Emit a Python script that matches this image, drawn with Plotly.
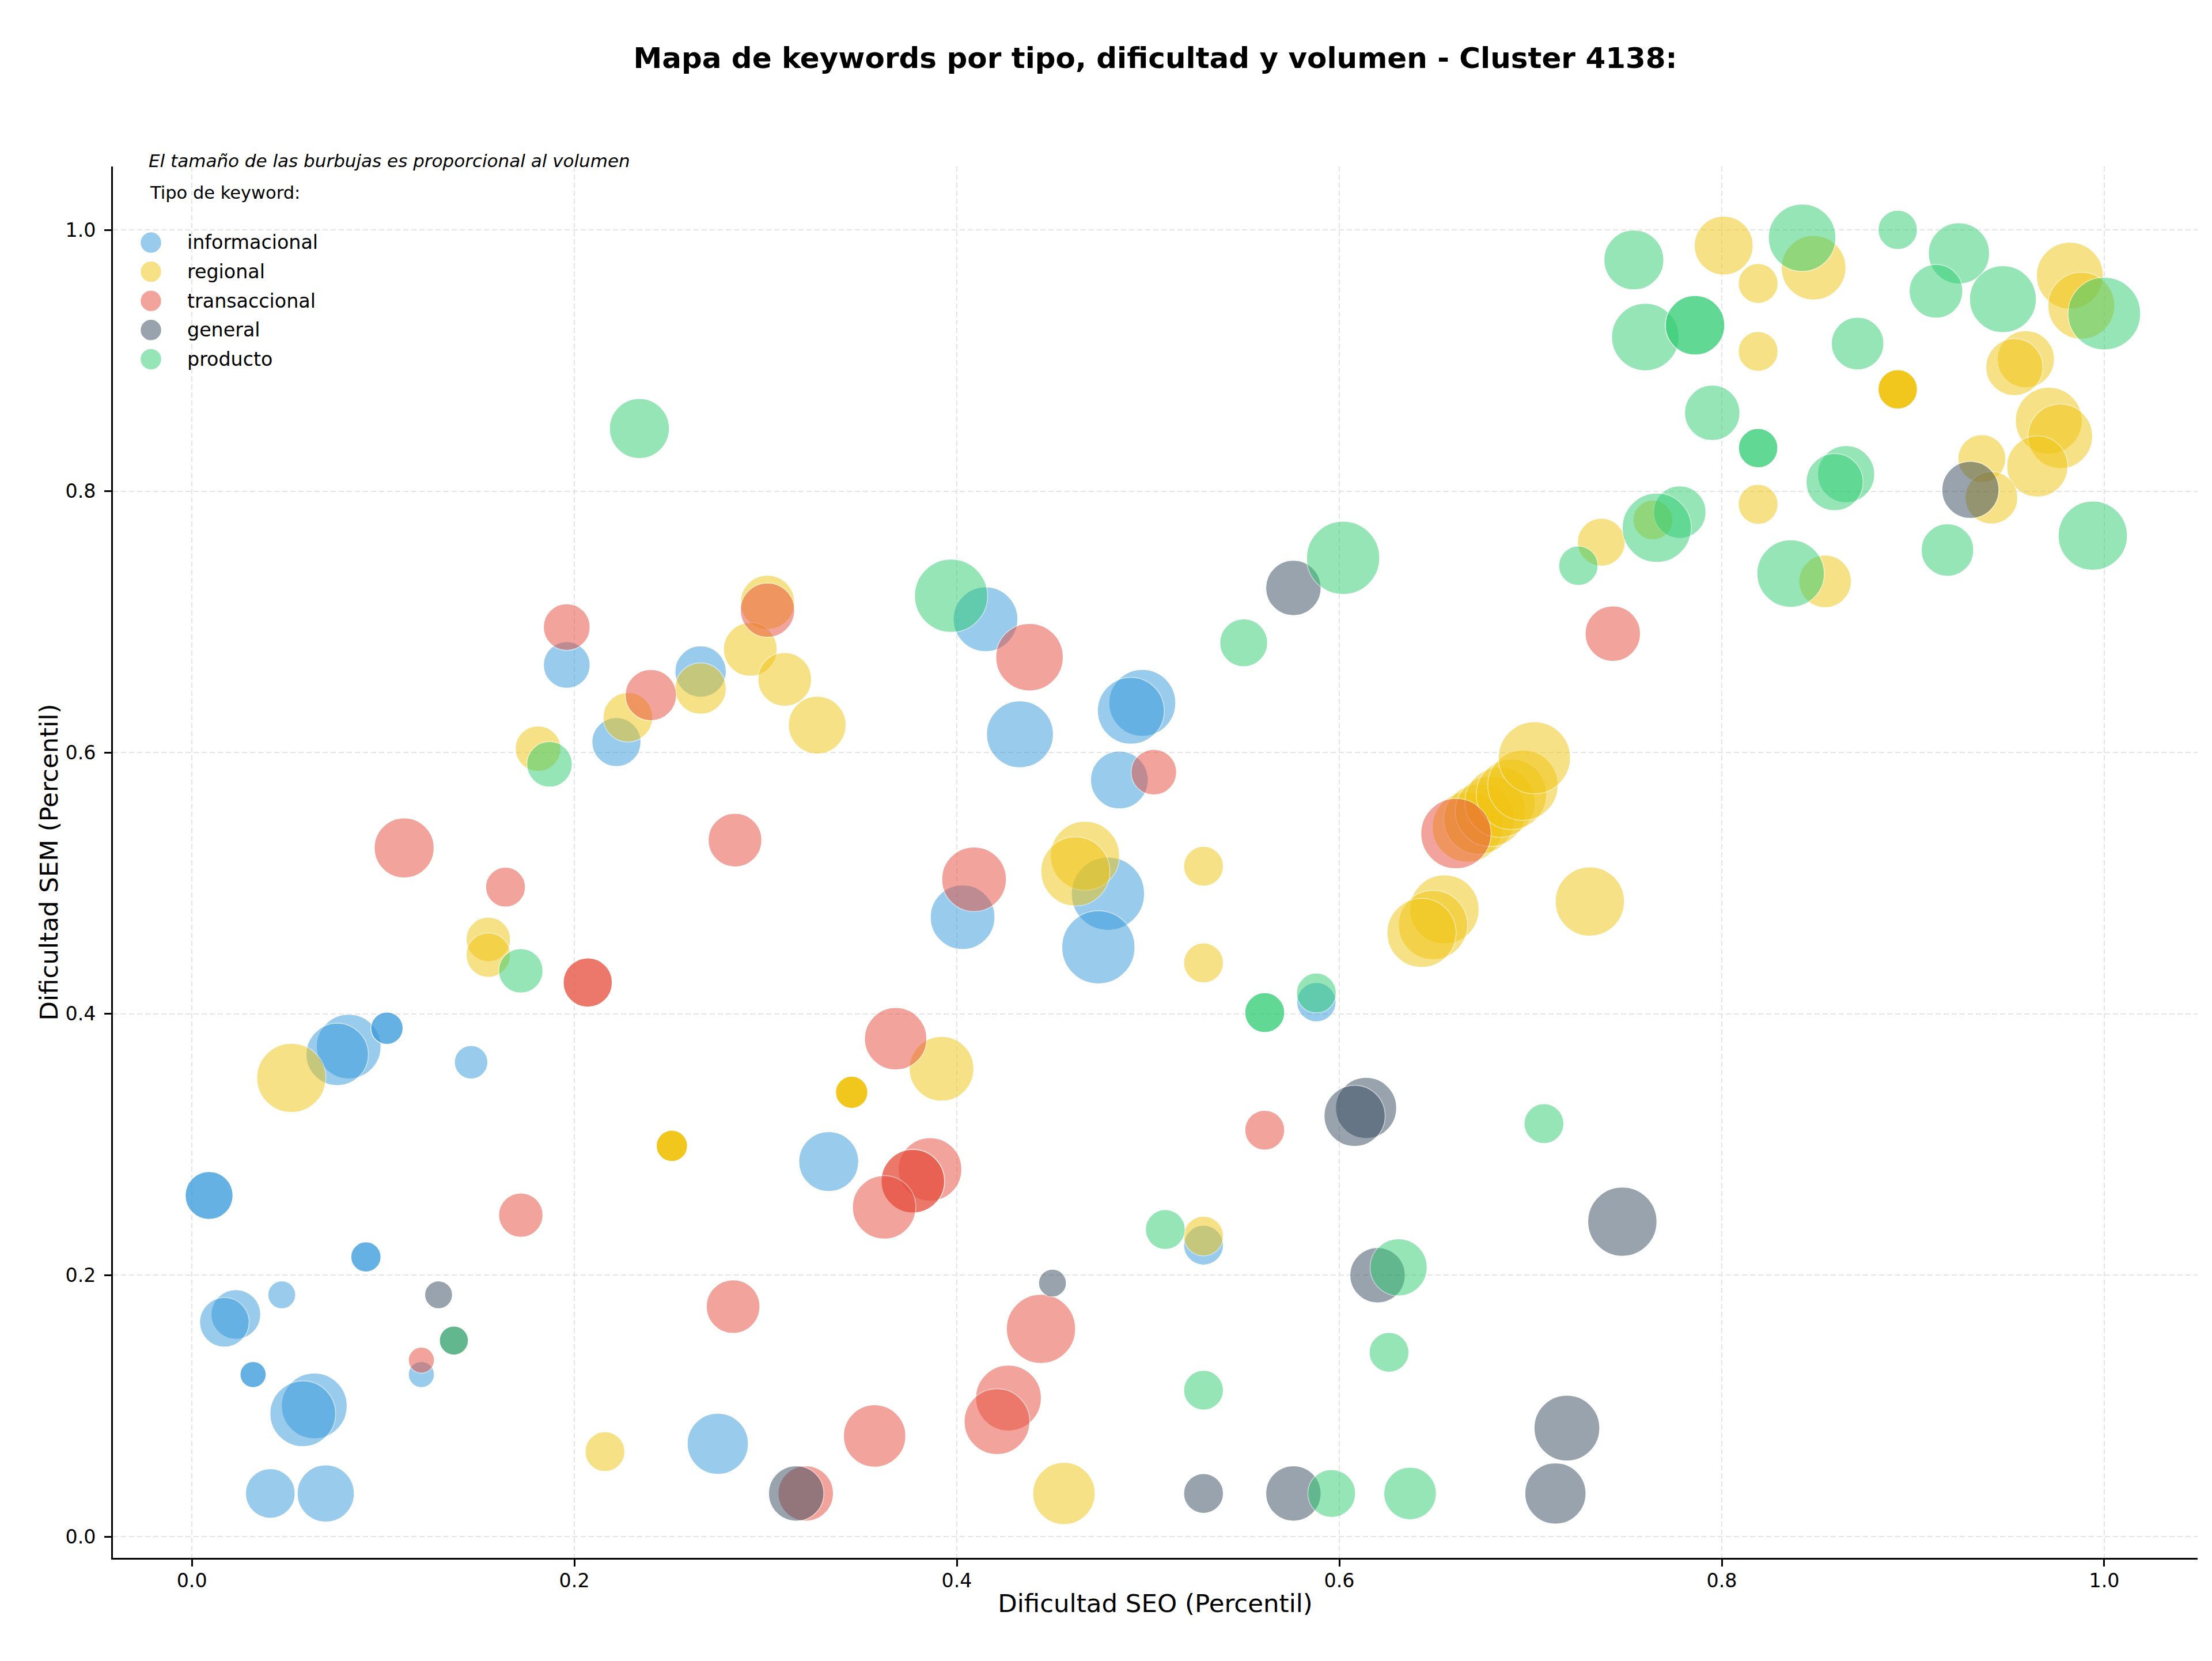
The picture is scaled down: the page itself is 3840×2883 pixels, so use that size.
import numpy as np
import plotly.graph_objects as go

# ---------------- data ----------------
tipos = ["informacional", "regional", "transaccional", "general", "producto"]

info_seo = [0.196, 0.266, 0.222, 0.082, 0.076, 0.102, 0.102, 0.146, 0.009, 0.009, 0.091, 0.091,
            0.047, 0.023, 0.017, 0.120, 0.032, 0.032, 0.064, 0.058, 0.275, 0.041, 0.070, 0.415,
            0.433, 0.497, 0.491, 0.485, 0.403, 0.479, 0.474, 0.588, 0.333, 0.529]
info_sem = [0.667, 0.662, 0.608, 0.375, 0.369, 0.389, 0.389, 0.363, 0.261, 0.261, 0.214, 0.214,
            0.185, 0.170, 0.164, 0.124, 0.124, 0.124, 0.100, 0.094, 0.071, 0.033, 0.033, 0.702,
            0.614, 0.638, 0.632, 0.579, 0.474, 0.492, 0.451, 0.409, 0.287, 0.223]
info_vol = [1640, 1980, 1810, 3140, 2920, 780, 780, 840, 1720, 1720, 680, 680,
            580, 1850, 1850, 510, 510, 510, 3250, 3250, 2810, 1850, 2450, 3140,
            3360, 3360, 3360, 2500, 3140, 4030, 4030, 1160, 2700, 1190]

reg_seo = [0.301, 0.292, 0.310, 0.327, 0.266, 0.228, 0.181, 0.155, 0.155, 0.052, 0.251, 0.251,
           0.251, 0.251, 0.216, 0.467, 0.462, 0.529, 0.529, 0.655, 0.649, 0.643, 0.392, 0.345,
           0.345, 0.345, 0.345, 0.456, 0.529, 0.667, 0.673, 0.679, 0.684, 0.690, 0.696, 0.702,
           0.731, 0.801, 0.848, 0.819, 0.982, 0.988, 0.819, 0.892, 0.892, 0.892, 0.892, 0.959,
           0.953, 0.971, 0.977, 0.936, 0.965, 0.941, 0.819, 0.764, 0.737, 0.854]
reg_sem = [0.715, 0.679, 0.656, 0.621, 0.649, 0.627, 0.603, 0.457, 0.445, 0.351, 0.299, 0.299,
           0.299, 0.299, 0.065, 0.521, 0.509, 0.513, 0.439, 0.480, 0.468, 0.462, 0.358, 0.340,
           0.340, 0.340, 0.340, 0.033, 0.230, 0.543, 0.549, 0.555, 0.562, 0.568, 0.575, 0.596,
           0.486, 0.988, 0.971, 0.959, 0.965, 0.942, 0.907, 0.878, 0.878, 0.878, 0.878, 0.901,
           0.895, 0.854, 0.842, 0.825, 0.819, 0.795, 0.790, 0.778, 0.761, 0.731]
reg_vol = [2210, 2160, 2160, 2500, 1980, 1850, 1560, 1480, 1480, 3600, 730, 730,
           730, 730, 1190, 3600, 3600, 1190, 1190, 3600, 3600, 3600, 3140, 780,
           780, 780, 780, 2920, 1190, 3720, 3720, 3720, 3720, 3720, 3720, 3910,
           3600, 2600, 3140, 1190, 3360, 3360, 1190, 1160, 1160, 1160, 1160, 2450,
           2450, 3360, 3140, 1720, 2810, 2070, 1190, 1190, 1720, 2070]

trans_seo = [0.196, 0.301, 0.240, 0.111, 0.284, 0.164, 0.207, 0.207, 0.172, 0.120, 0.321, 0.283,
             0.438, 0.503, 0.661, 0.409, 0.368, 0.386, 0.377, 0.377, 0.362, 0.444, 0.427, 0.421,
             0.357, 0.561, 0.743]
trans_sem = [0.696, 0.709, 0.644, 0.527, 0.533, 0.497, 0.424, 0.424, 0.246, 0.135, 0.033, 0.176,
             0.673, 0.585, 0.538, 0.503, 0.381, 0.281, 0.272, 0.272, 0.252, 0.159, 0.106, 0.088,
             0.077, 0.311, 0.691]
trans_vol = [1640, 2210, 1980, 2700, 2160, 1190, 1810, 1810, 1480, 510, 2300, 2160,
             3420, 1560, 3720, 3140, 2920, 3030, 3030, 3030, 3030, 3600, 3250, 3250,
             2920, 1190, 2300]

gen_seo = [0.129, 0.137, 0.316, 0.576, 0.450, 0.529, 0.614, 0.608, 0.620, 0.576, 0.748, 0.719,
           0.713, 0.930]
gen_sem = [0.185, 0.150, 0.033, 0.726, 0.194, 0.033, 0.328, 0.322, 0.200, 0.033, 0.241, 0.083,
           0.033, 0.801]
gen_vol = [580, 630, 2300, 2300, 580, 1190, 2810, 2810, 2300, 2300, 3600, 3250,
           2810, 2450]

prod_seo = [0.234, 0.187, 0.172, 0.137, 0.397, 0.550, 0.602, 0.561, 0.561, 0.588, 0.509, 0.529,
            0.631, 0.626, 0.596, 0.637, 0.707, 0.754, 0.842, 0.892, 0.924, 0.912, 0.947, 1.000,
            0.760, 0.786, 0.786, 0.871, 0.795, 0.819, 0.819, 0.865, 0.859, 0.778, 0.766, 0.725,
            0.836, 0.918, 0.994]
prod_sem = [0.848, 0.591, 0.433, 0.150, 0.720, 0.684, 0.749, 0.401, 0.401, 0.416, 0.235, 0.112,
            0.206, 0.141, 0.033, 0.033, 0.316, 0.977, 0.994, 1.000, 0.982, 0.953, 0.947, 0.936,
            0.918, 0.927, 0.927, 0.913, 0.860, 0.833, 0.833, 0.813, 0.807, 0.784, 0.772, 0.743,
            0.737, 0.755, 0.766]
prod_vol = [2700, 1560, 1480, 630, 4030, 1720, 4030, 1190, 1190, 1190, 1190, 1190,
            2450, 1190, 1720, 2070, 1190, 2700, 3420, 1160, 2810, 2160, 3360, 3970,
            3420, 2650, 2650, 2070, 2300, 1160, 1160, 2450, 2450, 2070, 3600, 1160,
            3420, 2070, 3600]

tick_vals = [0.0, 0.2, 0.4, 0.6, 0.8, 1.0]
tick_text = ["0.0", "0.2", "0.4", "0.6", "0.8", "1.0"]

# ---------------- style ----------------
colores = {
    "informacional": "#3498DB",
    "regional": "#F1C40F",
    "transaccional": "#E74C3C",
    "general": "#34495E",
    "producto": "#2ECC71",
}
series = {
    "informacional": (info_seo, info_sem, info_vol),
    "regional": (reg_seo, reg_sem, reg_vol),
    "transaccional": (trans_seo, trans_sem, trans_vol),
    "general": (gen_seo, gen_sem, gen_vol),
    "producto": (prod_seo, prod_sem, prod_vol),
}

FW, FH = 3840, 2883
ML, MR, MT, MB = 196, 25, 289, 179
PW, PH = FW - ML - MR, FH - MT - MB
FONT = "DejaVu Sans"
SIZE_K = 2.0  # diameter (px) = SIZE_K * sqrt(volume)

fig = go.Figure()
for t in tipos:
    seo, sem, vol = series[t]
    fig.add_trace(go.Scatter(
        x=seo, y=sem, mode="markers", name=t, showlegend=False,
        marker=dict(
            size=[SIZE_K * np.sqrt(v) for v in vol], sizemode="diameter",
            color=colores[t], opacity=0.5,
            line=dict(color="white", width=1.5),
        ),
    ))

def px_x(px):
    return (px - ML) / PW

def px_y(py):
    return (FH - MB - py) / PH

annotations = [
    dict(text="<i>El tamaño de las burbujas es proporcional al volumen</i>",
         xref="paper", yref="paper", x=px_x(256), y=px_y(279),
         xanchor="left", yanchor="middle", showarrow=False,
         font=dict(family=FONT, size=31, color="black")),
    dict(text="Tipo de keyword:",
         xref="paper", yref="paper", x=px_x(258), y=px_y(334),
         xanchor="left", yanchor="middle", showarrow=False,
         font=dict(family=FONT, size=30.5, color="black")),
]
shapes = []
r = 18.5
for i, t in enumerate(tipos):
    cy = 421 + i * 50.6
    shapes.append(dict(type="circle", xref="paper", yref="paper",
                       x0=px_x(262 - r), x1=px_x(262 + r), y0=px_y(cy + r), y1=px_y(cy - r),
                       fillcolor=colores[t], opacity=0.5, line=dict(color="white", width=1.5)))
    annotations.append(dict(text=t, xref="paper", yref="paper", x=px_x(323), y=px_y(cy),
                            xanchor="left", yanchor="middle", showarrow=False,
                            font=dict(family=FONT, size=33.3, color="black")))

axis_common = dict(
    showline=True, linecolor="black", linewidth=2.7, mirror=False,
    ticks="outside", ticklen=12, tickwidth=2.7, tickcolor="black",
    tickvals=tick_vals, ticktext=tick_text,
    tickfont=dict(family=FONT, size=33.3, color="black"),
    showgrid=True, gridcolor="#E4E4E4", gridwidth=1.7, griddash="9px,5px",
    zeroline=False,
)

fig.update_layout(
    width=FW, height=FH,
    margin=dict(l=ML, r=MR, t=MT, b=MB, autoexpand=False),
    paper_bgcolor="white", plot_bgcolor="white",
    title=dict(text="Mapa de keywords por tipo, dificultad y volumen - Cluster 4138:",
               x=0.5, xref="paper", xanchor="center",
               y=1 - 100 / FH, yref="container", yanchor="middle",
               font=dict(family=FONT, size=50, color="black", weight="bold")),
    xaxis=dict(range=[-0.0413, 1.0488],
               title=dict(text="Dificultad SEO (Percentil)", standoff=6,
                          font=dict(family=FONT, size=43.5, color="black")),
               ticklabelstandoff=-4, **axis_common),
    yaxis=dict(range=[-0.0163, 1.0485],
               title=dict(text="Dificultad SEM (Percentil)", standoff=0,
                          font=dict(family=FONT, size=43.5, color="black")),
               ticklabelstandoff=8, **axis_common),
    annotations=annotations,
    shapes=shapes,
    showlegend=False,
)

fig.write_html("out.html")
